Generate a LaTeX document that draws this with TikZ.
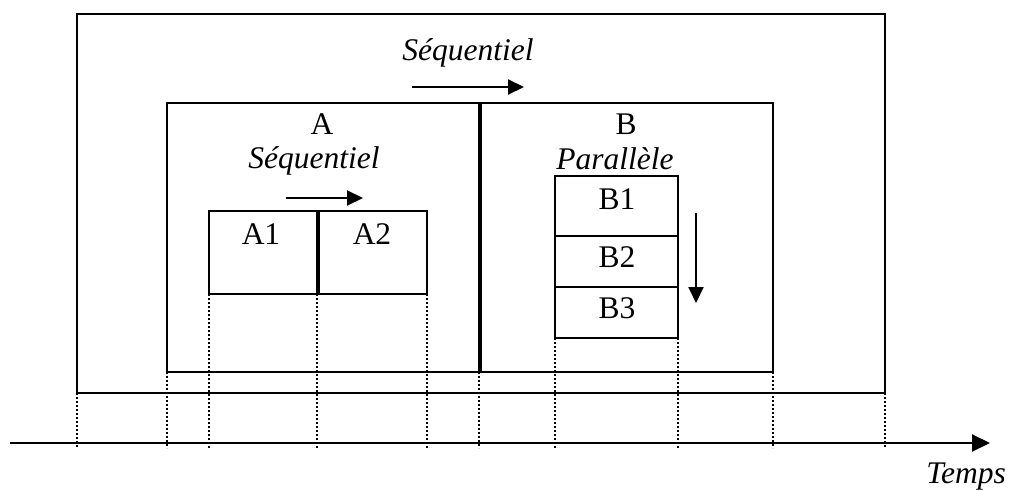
\documentclass[tikz,border=0pt]{standalone}
\usepackage{fontspec}
\setmainfont{Liberation Serif}
\usetikzlibrary{arrows.meta}
\begin{document}
\begin{tikzpicture}[x=1pt,y=-1pt,
  box/.style={draw,line width=2pt,rectangle,inner sep=0pt,outer sep=0pt},
  lbl/.style={anchor=base,inner sep=0pt,font=\fontsize{31.5}{36}\selectfont},
  ilbl/.style={lbl,font=\fontsize{31.5}{36}\selectfont\itshape},
  guide/.style={line width=2pt,dash pattern=on 2pt off 2pt},
  flow/.style={line width=2pt,-{Triangle[length=16pt,width=15pt]}}
]
\useasboundingbox (0,0) rectangle (1011,490);
% boxes
\node[box,minimum width=808pt,minimum height=379pt] (outer) at (481,203.5) {};
\node[box,minimum width=312pt,minimum height=269pt] (A) at (323,237.5) {};
\node[box,minimum width=292pt,minimum height=269pt] (B) at (627,237.5) {};
\node[box,minimum width=108pt,minimum height=83pt] (A1) at (263,252.5) {};
\node[box,minimum width=108pt,minimum height=83pt] (A2) at (373,252.5) {};
\node[box,minimum width=123pt,minimum height=60pt] (B1) at (616.5,206) {};
\node[box,minimum width=123pt,minimum height=51pt] (B2) at (616.5,261.5) {};
\node[box,minimum width=123pt,minimum height=51pt] (B3) at (616.5,312.5) {};
% labels
\node[ilbl] (seqtop) at (468,60) {Séquentiel};
\node[lbl] (Alab) at (322,134) {A};
\node[ilbl] (Aseq) at (314,168) {Séquentiel};
\node[lbl] (Blab) at (626,134) {B};
\node[ilbl] (Bpar) at (615,169) {Parallèle};
\node[lbl] (A1t) at (261,244) {A1};
\node[lbl] (A2t) at (372,244) {A2};
\node[lbl] (B1t) at (617,209) {B1};
\node[lbl] (B2t) at (617,267) {B2};
\node[lbl] (B3t) at (617,318) {B3};
\node[ilbl,anchor=base east] (temps) at (1006,483) {Temps};
% flow arrows
\coordinate (s0) at (412,87); \coordinate (s1) at (524,87);
\coordinate (a0) at (286,198); \coordinate (a1) at (363,198);
\coordinate (b0) at (696,213); \coordinate (b1) at (696,303);
\draw[flow] (s0) -- (s1);
\draw[flow] (a0) -- (a1);
\draw[flow] (b0) -- (b1);
% time axis
\coordinate (t0) at (10,443); \coordinate (t1) at (990,443);
\draw[line width=2pt,-{Triangle[length=18pt,width=17pt]}] (t0) -- (t1);
% guides
\coordinate (gy) at (0,448);
\foreach \p in {outer.south west,A.south west,A1.south west,A1.south east,A2.south east,A.south east,B3.south west,B3.south east,B.south east,outer.south east}
  \draw[guide] (\p) -- (\p |- gy);
\end{tikzpicture}
\end{document}
